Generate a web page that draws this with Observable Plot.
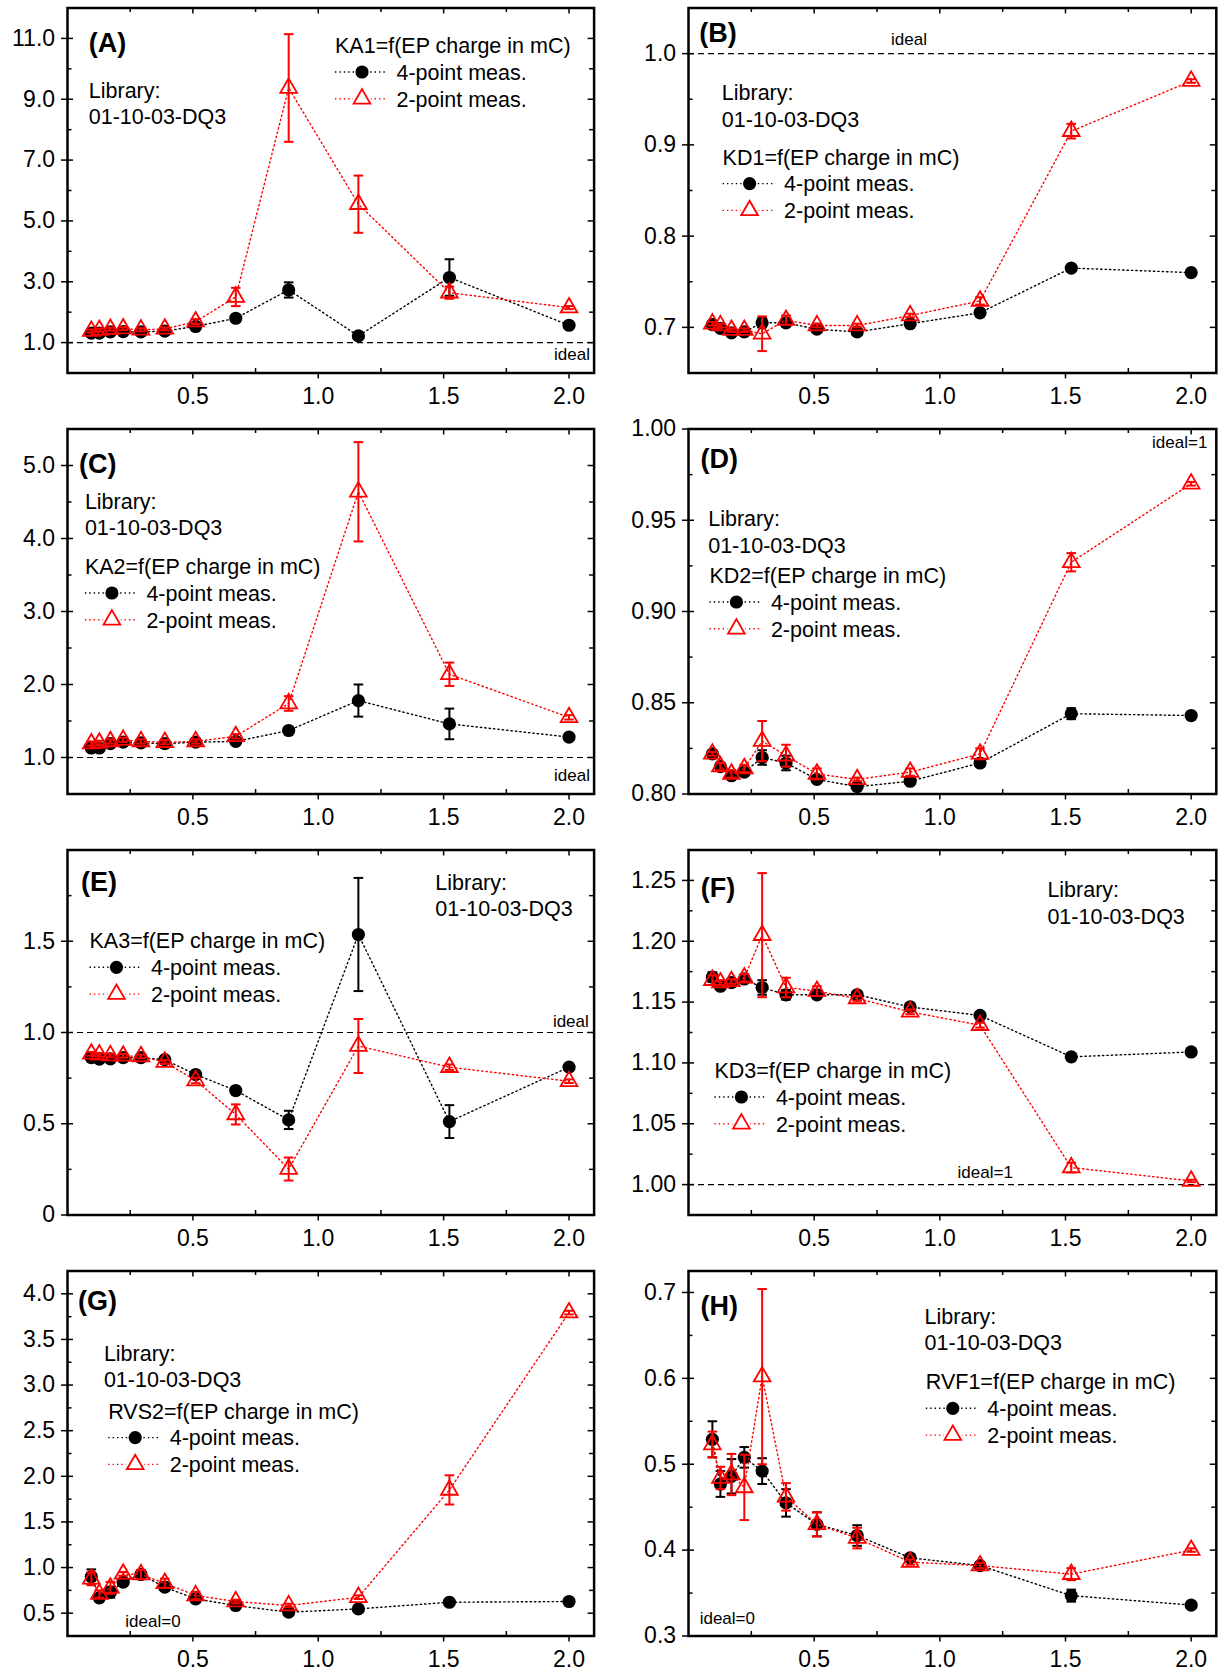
<!DOCTYPE html>
<html><head><meta charset="utf-8">
<script src="https://cdn.jsdelivr.net/npm/d3@7"></script>
<script src="https://cdn.jsdelivr.net/npm/@observablehq/plot@0.6"></script>
<style>
body{margin:0;background:#fff;}
#wrap{position:relative;width:1218px;height:1672px;overflow:hidden;font-family:Arial,"Liberation Sans",sans-serif;}
.panel{position:absolute;width:609px;height:421px;}
</style></head><body><div id="wrap"></div>
<script>
// ---------- data ----------
const charge = [0.095, 0.127, 0.171, 0.222, 0.293, 0.388, 0.511, 0.671, 0.882, 1.16, 1.523, 2.0];

const ka1_4 = [1.31, 1.31, 1.35, 1.36, 1.35, 1.38, 1.53, 1.80, 2.73, 1.22, 3.14, 1.57];
const ka1_4err = [0.05, 0.05, 0.05, 0.05, 0.05, 0.05, 0.08, 0.1, 0.25, 0.1, 0.6, 0.05];
const ka1_2 = [1.38, 1.41, 1.44, 1.46, 1.42, 1.45, 1.69, 2.50, 9.37, 5.55, 2.64, 2.15];
const ka1_2err = [0.05, 0.05, 0.05, 0.05, 0.05, 0.05, 0.08, 0.3, 1.77, 0.94, 0.2, 0.05];

const kd1_4 = [0.703, 0.699, 0.694, 0.695, 0.705, 0.705, 0.698, 0.695, 0.704, 0.716, 0.765, 0.760];
const kd1_4err = [0.002, 0.002, 0.002, 0.002, 0.005, 0.003, 0.002, 0.002, 0.002, 0.002, 0.002, 0.002];
const kd1_2 = [0.704, 0.702, 0.697, 0.697, 0.693, 0.708, 0.702, 0.702, 0.713, 0.729, 0.915, 0.970];
const kd1_2err = [0.002, 0.002, 0.002, 0.002, 0.019, 0.005, 0.002, 0.002, 0.002, 0.004, 0.008, 0.002];

const ka2_4 = [1.13, 1.13, 1.19, 1.21, 1.20, 1.19, 1.21, 1.22, 1.37, 1.78, 1.46, 1.28];
const ka2_4err = [0.03, 0.03, 0.03, 0.03, 0.03, 0.03, 0.03, 0.03, 0.03, 0.22, 0.21, 0.03];
const ka2_2 = [1.19, 1.20, 1.22, 1.24, 1.22, 1.21, 1.22, 1.29, 1.74, 4.64, 2.14, 1.55];
const ka2_2err = [0.03, 0.03, 0.03, 0.03, 0.03, 0.03, 0.03, 0.03, 0.1, 0.68, 0.16, 0.03];

const kd2_4 = [0.822, 0.815, 0.810, 0.812, 0.820, 0.817, 0.808, 0.804, 0.807, 0.817, 0.844, 0.843];
const kd2_4err = [0.001, 0.001, 0.001, 0.001, 0.004, 0.004, 0.001, 0.001, 0.001, 0.001, 0.003, 0.001];
const kd2_2 = [0.822, 0.815, 0.811, 0.814, 0.829, 0.821, 0.811, 0.808, 0.812, 0.822, 0.927, 0.970];
const kd2_2err = [0.001, 0.002, 0.002, 0.002, 0.011, 0.006, 0.003, 0.001, 0.002, 0.003, 0.005, 0.001];

const ka3_4 = [0.862, 0.854, 0.856, 0.862, 0.862, 0.851, 0.770, 0.682, 0.521, 1.537, 0.512, 0.810];
const ka3_4err = [0.01, 0.01, 0.01, 0.01, 0.01, 0.01, 0.01, 0.01, 0.05, 0.31, 0.09, 0.01];
const ka3_2 = [0.883, 0.878, 0.874, 0.872, 0.869, 0.838, 0.737, 0.551, 0.252, 0.926, 0.810, 0.733];
const ka3_2err = [0.01, 0.01, 0.01, 0.01, 0.01, 0.01, 0.015, 0.055, 0.063, 0.148, 0.015, 0.01];

const kd3_4 = [1.1705, 1.163, 1.166, 1.169, 1.162, 1.156, 1.156, 1.156, 1.146, 1.139, 1.105, 1.109];
const kd3_4err = [0.004, 0.002, 0.002, 0.002, 0.006, 0.004, 0.002, 0.002, 0.002, 0.002, 0.002, 0.002];
const kd3_2 = [1.168, 1.166, 1.167, 1.170, 1.205, 1.162, 1.159, 1.153, 1.142, 1.131, 1.014, 1.003];
const kd3_2err = [0.004, 0.002, 0.002, 0.003, 0.051, 0.008, 0.004, 0.002, 0.002, 0.002, 0.004, 0.001];

const rvs2_4 = [0.90, 0.668, 0.73, 0.84, 0.924, 0.785, 0.657, 0.584, 0.511, 0.547, 0.62, 0.628];
const rvs2_4err = [0.08, 0.04, 0.06, 0.02, 0.05, 0.04, 0.04, 0.02, 0.02, 0.02, 0.02, 0.02];
const rvs2_2 = [0.876, 0.71, 0.778, 0.931, 0.924, 0.829, 0.694, 0.628, 0.584, 0.675, 1.851, 3.794];
const rvs2_2err = [0.07, 0.04, 0.065, 0.02, 0.05, 0.05, 0.04, 0.02, 0.02, 0.02, 0.16, 0.02];

const rvf1_4 = [0.529, 0.477, 0.486, 0.508, 0.492, 0.455, 0.430, 0.417, 0.391, 0.382, 0.347, 0.336];
const rvf1_4err = [0.021, 0.015, 0.02, 0.012, 0.015, 0.016, 0.014, 0.012, 0.003, 0.003, 0.007, 0.002];
const rvf1_2 = [0.523, 0.484, 0.488, 0.473, 0.602, 0.462, 0.430, 0.414, 0.386, 0.382, 0.372, 0.400];
const rvf1_2err = [0.015, 0.013, 0.024, 0.038, 0.102, 0.016, 0.014, 0.012, 0.003, 0.003, 0.007, 0.002];

const xMajor = [0.5, 1.0, 1.5, 2.0];
const xMinor = [0.25, 0.75, 1.25, 1.75];

const seriesNames = ["4-point meas.", "2-point meas."];
const libraryLines = ["Library:", "01-10-03-DQ3"];

// ---------- panel settings ----------
const f1 = d => d.toFixed(1), f2 = d => d.toFixed(2);
const panels = [
  {tag:"(A)", title:"KA1=f(EP charge in mC)", col:0, row:0, four:ka1_4, fourErr:ka1_4err, two:ka1_2, twoErr:ka1_2err,
   yDomain:[0,12], yMajor:[1,3,5,7,9,11], yMinor:[2,4,6,8,10], fmt:f1, ideal:1,
   tagPos:[21.8,34.3], libPos:[21.8,82.7], legPos:[268,37.7], idealLabel:{text:"ideal", x:523, y:346, anchor:"end"}},
  {tag:"(B)", title:"KD1=f(EP charge in mC)", col:1, row:0, four:kd1_4, fourErr:kd1_4err, two:kd1_2, twoErr:kd1_2err,
   yDomain:[0.65,1.05], yMajor:[0.7,0.8,0.9,1.0], yMinor:[0.75,0.85,0.95], fmt:f1, ideal:1,
   tagPos:[11.3,25], libPos:[33.8,85], legPos:[34.6,149.3], idealLabel:{text:"ideal", x:203, y:31.7, anchor:"start"}},
  {tag:"(C)", title:"KA2=f(EP charge in mC)", col:0, row:1, four:ka2_4, fourErr:ka2_4err, two:ka2_2, twoErr:ka2_2err,
   yDomain:[0.5,5.5], yMajor:[1,2,3,4,5], yMinor:[1.5,2.5,3.5,4.5], fmt:f1, ideal:1,
   tagPos:[12,34.3], libPos:[17.9,72.7], legPos:[17.9,137.7], idealLabel:{text:"ideal", x:523, y:346.7, anchor:"end"}},
  {tag:"(D)", title:"KD2=f(EP charge in mC)", col:1, row:1, four:kd2_4, fourErr:kd2_4err, two:kd2_2, twoErr:kd2_2err,
   yDomain:[0.8,1.0], yMajor:[0.8,0.85,0.9,0.95,1.0], yMinor:[0.825,0.875,0.925,0.975], fmt:f2, ideal:null,
   tagPos:[12.4,30], libPos:[20.2,90], legPos:[21.4,146.7], idealLabel:{text:"ideal=1", x:519.4, y:13.3, anchor:"end"}},
  {tag:"(E)", title:"KA3=f(EP charge in mC)", col:0, row:2, four:ka3_4, fourErr:ka3_4err, two:ka3_2, twoErr:ka3_2err,
   yDomain:[0,2], yMajor:[0,0.5,1,1.5], yMinor:[0.25,0.75,1.25,1.75], fmt:d => d === 0 ? "0" : d.toFixed(1), ideal:1,
   tagPos:[14,31.7], libPos:[368.3,32.3], legPos:[22.5,91], idealLabel:{text:"ideal", x:521.8, y:171, anchor:"end"}},
  {tag:"(F)", title:"KD3=f(EP charge in mC)", col:1, row:2, four:kd3_4, fourErr:kd3_4err, two:kd3_2, twoErr:kd3_2err,
   yDomain:[0.975,1.275], yMajor:[1.0,1.05,1.1,1.15,1.2,1.25], yMinor:[1.025,1.075,1.125,1.175,1.225], fmt:f2, ideal:1,
   tagPos:[12.8,37.7], libPos:[359.4,40], legPos:[26.4,220.7], idealLabel:{text:"ideal=1", x:269.6, y:322.3, anchor:"start"}},
  {tag:"(G)", title:"RVS2=f(EP charge in mC)", col:0, row:3, four:rvs2_4, fourErr:rvs2_4err, two:rvs2_2, twoErr:rvs2_2err,
   yDomain:[0.25,4.25], yMajor:[0.5,1,1.5,2,2.5,3,3.5,4], yMinor:[0.75,1.25,1.75,2.25,2.75,3.25,3.75], fmt:f1, ideal:null,
   tagPos:[10.9,29.3], libPos:[36.9,82.7], legPos:[41.2,140.3], idealLabel:{text:"ideal=0", x:58.3, y:350, anchor:"start"}},
  {tag:"(H)", title:"RVF1=f(EP charge in mC)", col:1, row:3, four:rvf1_4, fourErr:rvf1_4err, two:rvf1_2, twoErr:rvf1_2err,
   yDomain:[0.3,0.725], yMajor:[0.3,0.4,0.5,0.6,0.7], yMinor:[0.35,0.45,0.55,0.65], fmt:f1, ideal:null,
   tagPos:[12.4,34.3], libPos:[236.6,45.3], legPos:[237.8,111], idealLabel:{text:"ideal=0", x:11.7, y:347, anchor:"start"}}
];

// ---------- drawing ----------
const FONT = 'Arial, "Liberation Sans", sans-serif';
const RED = "#ff0000";
const W_SVG = 609, H_SVG = 421, MT = 7.5, MB = 48.5;
const capSymbol = {draw(ctx, size) { const r = Math.sqrt(size / Math.PI); ctx.moveTo(-r, 0); ctx.lineTo(r, 0); }};
const DOT_R = 6.6, TRI_R = 6.2, CAP_R = 4.8;
const DASH = "1.4 3";

function rows(ys, es) { return charge.map((x, i) => ({x, y: ys[i], e: es[i]})); }

function seriesMarks(data, color, isTri) {
  const marks = [
    Plot.line(data, {x: "x", y: "y", stroke: color, strokeWidth: 1.4, strokeDasharray: DASH}),
    Plot.ruleX(data, {x: "x", y1: d => d.y - d.e, y2: d => d.y + d.e, stroke: color, strokeWidth: 2}),
    Plot.dot(data, {x: "x", y: d => d.y + d.e, symbol: capSymbol, r: CAP_R, stroke: color, strokeWidth: 2, fill: "none"}),
    Plot.dot(data, {x: "x", y: d => d.y - d.e, symbol: capSymbol, r: CAP_R, stroke: color, strokeWidth: 2, fill: "none"})
  ];
  if (isTri) marks.push(Plot.dot(data, {x: "x", y: "y", symbol: "triangle", r: TRI_R, stroke: color, strokeWidth: 1.8, fill: "none"}));
  else marks.push(Plot.dot(data, {x: "x", y: "y", r: DOT_R, fill: color, stroke: "none"}));
  return marks;
}

function annotations(p) {
  return (index, scales, values, dimensions) => {
    const ox = dimensions.marginLeft, oy = dimensions.marginTop;
    const g = d3.create("svg:g").attr("font-family", FONT).attr("fill", "black").attr("text-anchor", "start");
    const txt = (x, y, t, size, extra = {}) => {
      const e = g.append("text").attr("x", x).attr("y", y).attr("dy", "0.36em").attr("font-size", size)
        .attr("text-anchor", extra.anchor || "start").text(t);
      if (extra.bold) e.attr("font-weight", "bold");
      return e;
    };
    txt(ox + p.tagPos[0], oy + p.tagPos[1], p.tag, 27, {bold: true});
    libraryLines.forEach((t, i) => txt(ox + p.libPos[0], oy + p.libPos[1] + i * 26.5, t, 21.5));
    const lx = ox + p.legPos[0], ly = oy + p.legPos[1];
    txt(lx, ly, p.title, 21.5);
    [0, 1].forEach(i => {
      const yy = ly + 26.8 * (i + 1);
      const color = i === 0 ? "black" : RED;
      g.append("line").attr("x1", lx).attr("x2", lx + 52).attr("y1", yy).attr("y2", yy)
        .attr("stroke", color).attr("stroke-width", 1.4).attr("stroke-dasharray", DASH);
      if (i === 0) {
        g.append("circle").attr("cx", lx + 27).attr("cy", yy).attr("r", DOT_R).attr("fill", "black");
      } else {
        g.append("rect").attr("x", lx + 18).attr("y", yy - 9).attr("width", 18).attr("height", 15).attr("fill", "white");
        g.append("path").attr("transform", `translate(${lx + 27},${yy})`)
          .attr("d", d3.symbol(d3.symbolTriangle, Math.PI * TRI_R * TRI_R)())
          .attr("fill", "none").attr("stroke", RED).attr("stroke-width", 1.8);
      }
      txt(lx + 61.5, yy, seriesNames[i], 21.5);
    });
    const il = p.idealLabel;
    txt(ox + il.x, oy + il.y, il.text, 17, {anchor: il.anchor});
    return g.node();
  };
}

const wrap = document.getElementById("wrap");
for (const p of panels) {
  const ML = p.col === 0 ? 67 : 79;
  const MR = p.col === 0 ? 15.4 : 2.2;
  const W = W_SVG - ML - MR, H = H_SVG - MT - MB;
  const marks = [];
  if (p.ideal != null) marks.push(Plot.ruleY([p.ideal], {stroke: "black", strokeWidth: 1.2, strokeDasharray: "6 4"}));
  marks.push(...seriesMarks(rows(p.four, p.fourErr), "black", false));
  marks.push(...seriesMarks(rows(p.two, p.twoErr), RED, true));
  marks.push(
    Plot.axisX(xMajor, {anchor: "bottom", tickSize: 6, tickPadding: 8.4, tickFormat: f1, label: null, fontSize: 23, fontFamily: FONT, strokeWidth: 1.5}),
    Plot.tickX(xMinor, {x: d => d, insetTop: H - 4.5, strokeWidth: 1.5}),
    Plot.tickX(xMajor, {x: d => d, insetBottom: H - 6, strokeWidth: 1.5}),
    Plot.tickX(xMinor, {x: d => d, insetBottom: H - 4.5, strokeWidth: 1.5}),
    Plot.axisY(p.yMajor, {anchor: "left", tickSize: 6, tickPadding: 6.4, tickFormat: p.fmt, label: null, fontSize: 23, fontFamily: FONT, strokeWidth: 1.5}),
    Plot.tickY(p.yMajor, {y: d => d, insetRight: W - 6, strokeWidth: 1.5}),
    Plot.tickY(p.yMinor, {y: d => d, insetRight: W - 4.5, strokeWidth: 1.5}),
    Plot.tickY(p.yMajor, {y: d => d, insetLeft: W - 6, strokeWidth: 1.5}),
    Plot.tickY(p.yMinor, {y: d => d, insetLeft: W - 4.5, strokeWidth: 1.5}),
    Plot.frame({stroke: "black", strokeWidth: 2.5}),
    annotations(p)
  );
  const chart = Plot.plot({
    width: W_SVG, height: H_SVG,
    marginLeft: ML, marginRight: MR, marginTop: MT, marginBottom: MB,
    x: {domain: [0, 2.1]},
    y: {domain: p.yDomain},
    style: {fontFamily: FONT, fontSize: "23px", color: "black", background: "white", overflow: "visible"},
    marks
  });
  const div = document.createElement("div");
  div.className = "panel";
  div.style.left = (p.col * W_SVG) + "px";
  div.style.top = (p.row * H_SVG) + "px";
  div.appendChild(chart);
  wrap.appendChild(div);
}
</script></body></html>
